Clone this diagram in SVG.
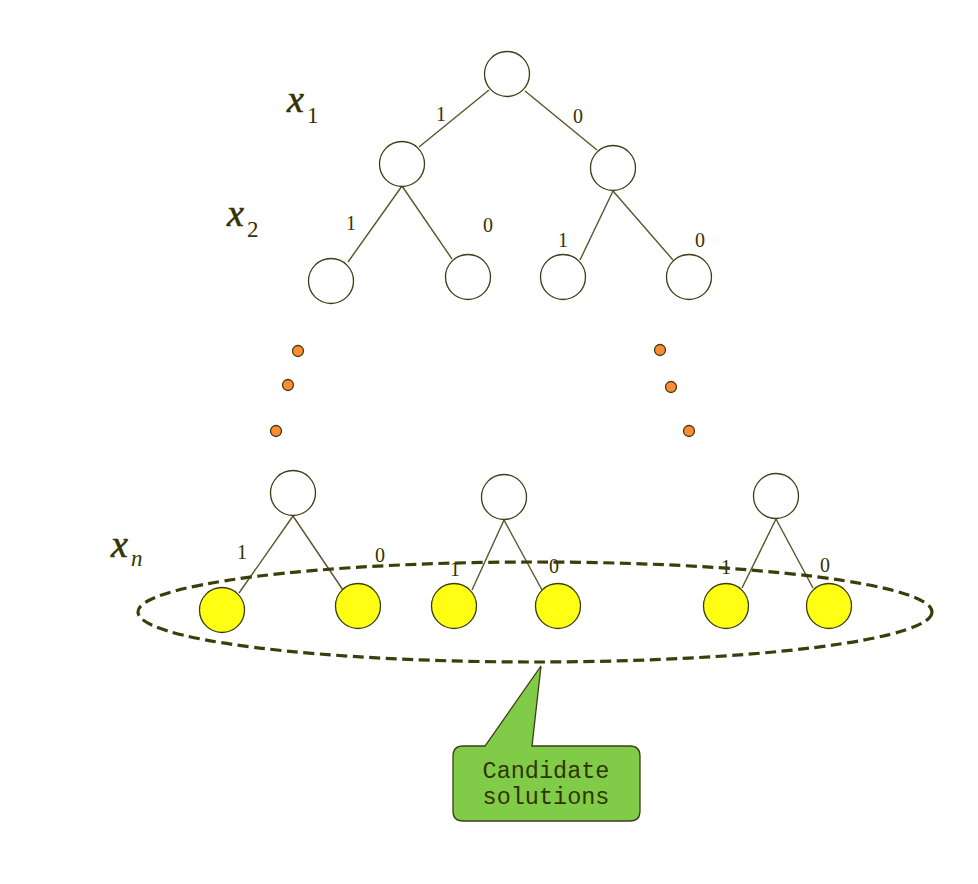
<svg xmlns="http://www.w3.org/2000/svg" width="978" height="884" viewBox="0 0 978 884">
<style>
.n{fill:#fff;stroke:#3d3d16;stroke-width:1.3}
.y{fill:#ffff14;stroke:#3d3d16;stroke-width:1.3}
.d{fill:#ff8c33;stroke:#3d3d16;stroke-width:1.3}
.e{stroke:#55552a;stroke-width:1.4;fill:none}
.l{font-family:"Liberation Serif",serif;font-size:20px;fill:#333300;text-anchor:middle}
.v{font-family:"Liberation Serif",serif;font-style:italic;font-size:38px;fill:#333300;stroke:#333300;stroke-width:0.6}
.s{font-family:"Liberation Serif",serif;font-size:23px;fill:#333300}
.si{font-family:"Liberation Serif",serif;font-style:italic;font-size:23px;fill:#333300}
.c{font-family:"Liberation Mono",monospace;font-size:23.5px;fill:#333300;text-anchor:middle}
</style>
<rect width="978" height="884" fill="#fff"/>
<g id="connectors">
<line class="e" x1="489" y1="90" x2="419" y2="147"/>
<line class="e" x1="525" y1="91" x2="597" y2="150"/>
<line class="e" x1="402" y1="186" x2="348" y2="262"/>
<line class="e" x1="402" y1="186" x2="452" y2="259"/>
<line class="e" x1="613" y1="191" x2="580" y2="260"/>
<line class="e" x1="613" y1="191" x2="673" y2="260"/>
<line class="e" x1="293" y1="516" x2="239" y2="593"/>
<line class="e" x1="293" y1="516" x2="343" y2="590"/>
<line class="e" x1="504" y1="520" x2="472" y2="590"/>
<line class="e" x1="504" y1="520" x2="542" y2="590"/>
<line class="e" x1="776" y1="519" x2="742" y2="588"/>
<line class="e" x1="776" y1="519" x2="813" y2="588"/>
</g>
<g id="edge-labels">
<text class="l" x="441" y="121">1</text>
<text class="l" x="578" y="123">0</text>
<text class="l" x="351" y="230">1</text>
<text class="l" x="488" y="232">0</text>
<text class="l" x="563" y="247">1</text>
<text class="l" x="700" y="247">0</text>
<text class="l" x="242" y="559">1</text>
<text class="l" x="380" y="562">0</text>
<text class="l" x="455" y="576">1</text>
<text class="l" x="554" y="573">0</text>
<text class="l" x="726" y="574">1</text>
<text class="l" x="825" y="572">0</text>
</g>
<g id="var-labels">
<text x="287" y="112"><tspan class="v">x</tspan><tspan class="s" dx="3" dy="11">1</tspan></text>
<text x="227" y="226"><tspan class="v">x</tspan><tspan class="s" dx="3" dy="11">2</tspan></text>
<text x="111" y="557"><tspan class="v">x</tspan><tspan class="si" dx="3" dy="9">n</tspan></text>
</g>
<g id="root"><circle class="n" cx="507" cy="74" r="22.5"/></g>
<g id="n1l"><circle class="n" cx="402" cy="164" r="22.5"/></g>
<g id="n1r"><circle class="n" cx="613" cy="168" r="22.5"/></g>
<g id="n2a"><circle class="n" cx="331" cy="281" r="22.5"/></g>
<g id="n2b"><circle class="n" cx="468" cy="277" r="22.5"/></g>
<g id="n2c"><circle class="n" cx="563" cy="277" r="22.5"/></g>
<g id="n2d"><circle class="n" cx="689" cy="277" r="22.5"/></g>
<g id="dots">
<circle class="d" cx="298" cy="351" r="5.5"/>
<circle class="d" cx="288" cy="385" r="5.5"/>
<circle class="d" cx="276" cy="431" r="5.5"/>
<circle class="d" cx="660" cy="350" r="5.5"/>
<circle class="d" cx="671" cy="387" r="5.5"/>
<circle class="d" cx="689" cy="431" r="5.5"/>
</g>
<g id="p1"><circle class="n" cx="293" cy="493" r="22.5"/></g>
<g id="p2"><circle class="n" cx="504" cy="497" r="22.5"/></g>
<g id="p3"><circle class="n" cx="776" cy="496" r="22.5"/></g>
<g id="leaf1"><circle class="y" cx="222" cy="610" r="22.5"/></g>
<g id="leaf2"><circle class="y" cx="358" cy="606" r="22.5"/></g>
<g id="leaf3"><circle class="y" cx="454" cy="606" r="22.5"/></g>
<g id="leaf4"><circle class="y" cx="558" cy="606" r="22.5"/></g>
<g id="leaf5"><circle class="y" cx="726" cy="606" r="22.5"/></g>
<g id="leaf6"><circle class="y" cx="829" cy="606" r="22.5"/></g>
<g id="candidates"><ellipse cx="535" cy="612" rx="397" ry="50" fill="none" stroke="#3d3d0a" stroke-width="3.2" stroke-dasharray="11 5.5"/></g>
<g id="callout">
<path d="M463,746 L485,746 L541,666 L532,746 L630,746 Q640,746 640,756 L640,811 Q640,821 630,821 L463,821 Q453,821 453,811 L453,756 Q453,746 463,746 Z" fill="#80cc48" stroke="#3d3d16" stroke-width="1.3"/>
<text class="c" x="546" y="778">Candidate</text>
<text class="c" x="546" y="804">solutions</text>
</g>
</svg>
